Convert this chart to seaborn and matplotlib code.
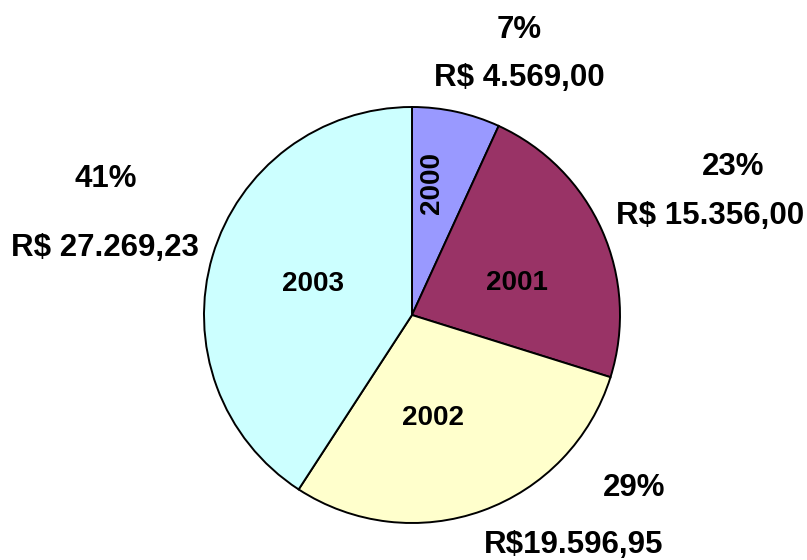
import numpy as np
import matplotlib
matplotlib.use("Agg")
import matplotlib.pyplot as plt
import seaborn as sns

# dados do grafico
anos = ["2000", "2001", "2002", "2003"]
valores = [4569.00, 15356.00, 19596.95, 27269.23]
rotulos_valor = ["R$ 4.569,00", "R$ 15.356,00", "R$19.596,95", "R$ 27.269,23"]
cores = ["#9999FF", "#993366", "#FFFFCC", "#CCFFFF"]

sns.set_theme(style="white")
plt.rcParams["font.family"] = ["Liberation Sans", "DejaVu Sans"]

W, H = 807, 560
fig = plt.figure(figsize=(W / 100, H / 100), dpi=100)
cx, cy, r = 412, 315, 208
ax = fig.add_axes([(cx - r) / W, (H - cy - r) / H, 2 * r / W, 2 * r / H])

ax.pie(valores, colors=cores, startangle=90, counterclock=False, radius=1,
       wedgeprops=dict(edgecolor="black", linewidth=1.4))
ax.set_xlim(-1, 1)
ax.set_ylim(-1, 1)
ax.set_aspect("equal")
ax.axis("off")

def px(x, y):
    return (x - cx) / r, (cy - y) / r

total = sum(valores)
pct = [f"{round(v / total * 100):.0f}%" for v in valores]

# posicoes dos rotulos (pixels)
pos_ano = [(432, 183), (517, 283), (433, 418), (313, 284)]
rot_ano = [90, 0, 0, 0]
pos_pct = [(519, 30), (733, 167), (634, 488), (106, 179)]
pos_val = [(519, 78), (710, 216), (574, 545), (105, 248)]

for i in range(len(anos)):
    x, y = px(*pos_ano[i])
    ax.text(x, y, anos[i], ha="center", va="center", rotation=rot_ano[i],
            fontsize=20, fontweight="bold", color="black")
    x, y = px(*pos_pct[i])
    ax.text(x, y, pct[i], ha="center", va="center", fontsize=22.5,
            fontweight="bold", color="black", clip_on=False)
    x, y = px(*pos_val[i])
    ax.text(x, y, rotulos_valor[i], ha="center", va="center", fontsize=22.5,
            fontweight="bold", color="black", clip_on=False)

fig.savefig("out.png", dpi=100, facecolor="white")
